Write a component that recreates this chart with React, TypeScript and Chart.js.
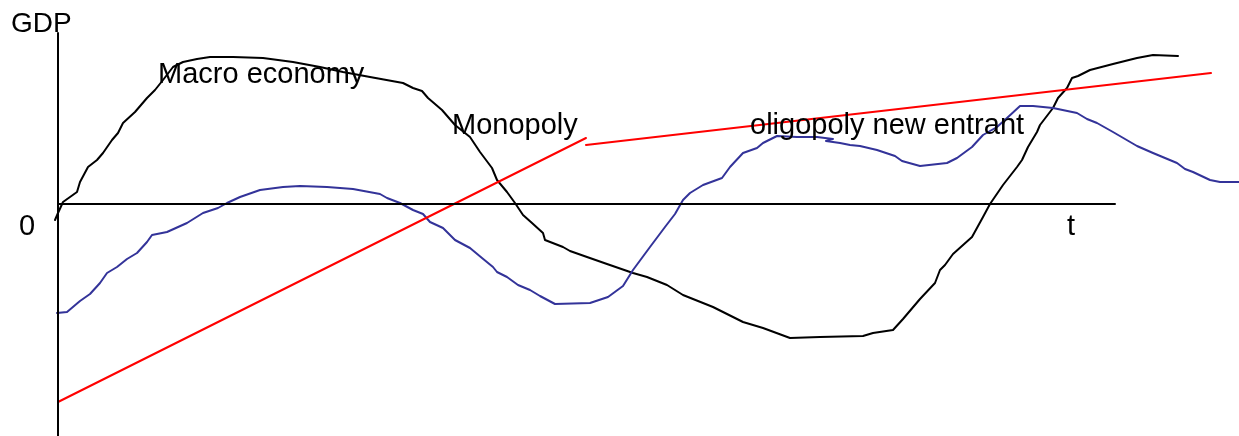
import React, { useEffect, useRef } from "react";
import { Chart, registerables } from "chart.js";

Chart.register(...registerables);

// t = time from origin, g = GDP relative to the zero line
const macroT = [-3, 0, 5, 12, 19, 22, 30, 39, 45, 54, 60, 65, 77, 89, 97, 105, 115, 125, 139, 152, 175, 205, 235, 262, 285, 312, 345, 355, 364, 370, 384, 397, 412, 422, 434, 439, 449, 457, 465, 474, 485, 487, 505, 512, 529, 549, 575, 589, 609, 625, 655, 685, 705, 732, 762, 805, 815, 835, 845, 862, 877, 882, 887, 895, 914, 925, 932, 945, 959, 964, 970, 979, 982, 995, 1000, 1009, 1014, 1020, 1032, 1055, 1079, 1095, 1120];
const macroG = [-16, -9, 2, 7, 12, 22, 37, 44, 51, 64, 71, 81, 92, 106, 114, 124, 137, 142, 145, 147, 147, 146, 142, 137, 132, 127, 121, 116, 113, 106, 94, 79, 67, 52, 36, 24, 12, 1, -11, -19, -29, -36, -43, -47, -53, -60, -69, -73, -81, -91, -103, -118, -124, -134, -133, -132, -129, -126, -115, -95, -79, -66, -61, -50, -33, -13, 0, 19, 37, 44, 57, 72, 79, 96, 106, 116, 126, 128, 134, 140, 146, 149, 148];

const firmT = [-1, 9, 22, 32, 42, 49, 59, 69, 79, 89, 94, 109, 129, 145, 160, 169, 182, 202, 225, 242, 269, 295, 322, 329, 342, 355, 365, 372, 385, 397, 412, 424, 435, 439, 449, 460, 472, 482, 497, 532, 550, 565, 575, 592, 607, 617, 625, 632, 645, 664, 672, 685, 699, 705, 719, 739, 759, 775, 768, 782, 792, 802, 819, 837, 844, 862, 889, 899, 914, 925, 939, 949, 962, 975, 995, 1019, 1029, 1039, 1055, 1079, 1095, 1119, 1127, 1135, 1152, 1162, 1181];
const firmG = [-109, -108, -97, -90, -79, -69, -63, -55, -49, -38, -31, -28, -19, -9, -4, 1, 7, 14, 17, 18, 17, 15, 10, 6, 1, -6, -10, -18, -24, -36, -44, -54, -63, -68, -73, -81, -86, -92, -100, -99, -93, -82, -66, -43, -23, -10, 4, 11, 19, 26, 37, 51, 56, 61, 68, 67, 67, 65, 63, 61, 59, 58, 54, 48, 43, 38, 41, 46, 57, 69, 77, 86, 98, 98, 96, 91, 85, 81, 72, 58, 51, 41, 35, 32, 24, 22, 22];

const monopolyT = [0, 528];
const monopolyG = [-198, 66];
const oligopolyT = [528, 1153];
const oligopolyG = [59, 131];

const yAxisT = [0, 0];
const yAxisG = [171, -232];
const xAxisT = [0, 1057];
const xAxisG = [0, 0];

const labelTexts = ["GDP", "0", "t", "Macro economy", "Monopoly", "oligopoly new entrant"];
const labelT = [-47, -39, 1009, 100, 394, 692];
const labelG = [172, -31, -31, 121, 70, 70];

const zip = (xs: number[], ys: number[]) => xs.map((x, i) => ({ x, y: ys[i] }));

const textPlugin = {
  id: "freeLabels",
  afterDatasetsDraw(chart: any) {
    const { ctx, scales } = chart;
    ctx.save();
    ctx.fillStyle = "#000000";
    ctx.textBaseline = "alphabetic";
    ctx.textAlign = "left";
    labelTexts.forEach((txt, i) => {
      ctx.font = (i === 0 ? "28px" : "29px") + ' "Liberation Sans", Arial, sans-serif';
      ctx.fillText(txt, scales.x.getPixelForValue(labelT[i]), scales.y.getPixelForValue(labelG[i]));
    });
    ctx.restore();
  },
};

export default function App() {
  const ref = useRef<HTMLCanvasElement | null>(null);
  useEffect(() => {
    document.body.style.margin = "0";
    if (!ref.current) return;
    const line = (data: any[], color: string) => ({
      data,
      borderColor: color,
      borderWidth: 2,
      pointRadius: 0,
      tension: 0,
      fill: false,
      borderJoinStyle: "round" as const,
      borderCapStyle: "round" as const,
    });
    const chart = new Chart(ref.current, {
      type: "line",
      data: {
        datasets: [
          line(zip(yAxisT, yAxisG), "#000000"),
          line(zip(xAxisT, xAxisG), "#000000"),
          line(zip(monopolyT, monopolyG), "#ff0000"),
          line(zip(oligopolyT, oligopolyG), "#ff0000"),
          line(zip(firmT, firmG), "#333399"),
          line(zip(macroT, macroG), "#000000"),
        ],
      },
      options: {
        animation: false,
        responsive: false,
        maintainAspectRatio: false,
        layout: { padding: 0 },
        plugins: { legend: { display: false }, tooltip: { enabled: false } },
        scales: {
          x: { type: "linear", min: -58, max: 1181, display: false },
          y: { type: "linear", min: -232, max: 204, display: false },
        },
      },
      plugins: [textPlugin],
    });
    return () => chart.destroy();
  }, []);
  return (
    <div style={{ width: 1239, height: 436 }}>
      <canvas ref={ref} width={1239} height={436} />
    </div>
  );
}
